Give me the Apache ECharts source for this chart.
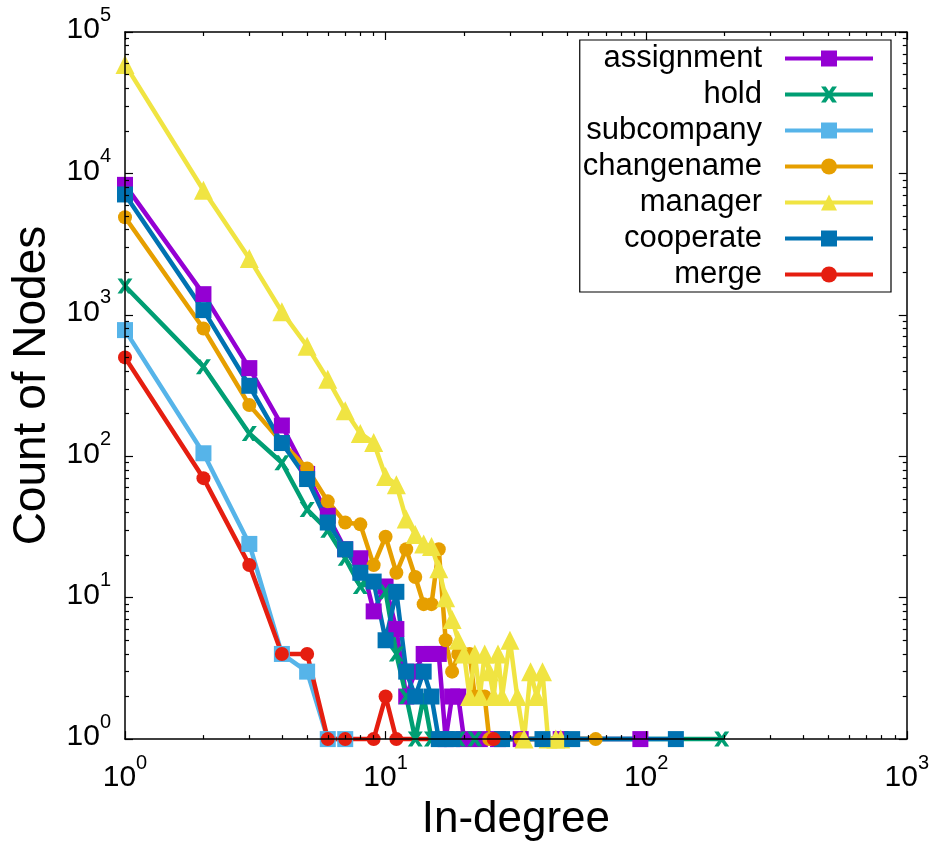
<!DOCTYPE html>
<html>
<head>
<meta charset="utf-8">
<script src="https://cdn.jsdelivr.net/npm/echarts@6/dist/echarts.min.js"></script>
<style>
  html, body { margin: 0; padding: 0; background: #fff; }
  #chart { width: 932px; height: 847px; }
</style>
</head>
<body>
<div id="chart"></div>
<script>
// in-degree distributions, [degree, count of nodes]
var assignment = [[1, 8300], [2, 1400], [3, 420], [4, 165], [5, 75], [6, 38], [7, 22], [8, 19], [9, 8], [10, 12], [11, 6], [12, 2], [13, 3], [14, 4], [15, 4], [16, 4], [17, 1], [18, 2], [19, 2], [20, 1], [23, 1], [27, 1], [33, 1], [47, 1], [95, 1]];
var hold = [[1, 1600], [2, 430], [3, 145], [4, 90], [5, 42], [6, 30], [7, 19], [8, 12], [9, 13], [10, 11], [11, 4], [12, 2], [13, 1], [14, 2], [15, 1], [17, 1], [19, 1], [22, 1], [195, 1]];
var subcompany = [[1, 780], [2, 105], [3, 24], [4, 4], [5, 3], [6, 1], [7, 1]];
var changename = [[1, 4900], [2, 800], [3, 230], [4, 125], [5, 82], [6, 48], [7, 34], [8, 33], [9, 17], [10, 27], [11, 15], [12, 22], [13, 14], [14, 9], [15, 9], [16, 22], [17, 5], [18, 3], [19, 4], [20, 4], [21, 4], [22, 2], [24, 2], [25, 1], [28, 1], [33, 1], [64, 1]];
var manager = [[1, 59000], [2, 7600], [3, 2500], [4, 1050], [5, 600], [6, 350], [7, 210], [8, 145], [9, 125], [10, 72], [11, 63], [12, 36], [13, 28], [14, 24], [15, 23], [16, 16], [17, 10], [18, 7], [19, 5], [20, 4], [21, 2], [22, 4], [23, 2], [24, 4], [25, 3], [26, 2], [27, 4], [28, 2], [30, 5], [32, 2], [34, 1], [36, 3], [38, 2], [40, 3], [42, 1], [45, 1], [47, 1]];
var cooperate = [[1, 7100], [2, 1080], [3, 315], [4, 124], [5, 69], [6, 34], [7, 22], [8, 15], [9, 13], [10, 5], [11, 11], [12, 3], [13, 2], [14, 3], [15, 2], [16, 1], [18, 1], [28, 1], [40, 1], [52, 1], [130, 1]];
var merge = [[1, 500], [2, 70], [3, 17], [4, 4], [5, 4], [6, 1], [7, 1], [9, 1], [10, 2], [11, 1], [26, 1]];

var minorX = [2, 3, 4, 5, 6, 7, 8, 9, 20, 30, 40, 50, 60, 70, 80, 90, 200, 300, 400, 500, 600, 700, 800, 900];
var minorY = [2, 3, 4, 5, 6, 7, 8, 9, 20, 30, 40, 50, 60, 70, 80, 90, 200, 300, 400, 500, 600, 700, 800, 900,
  2000, 3000, 4000, 5000, 6000, 7000, 8000, 9000, 20000, 30000, 40000, 50000, 60000, 70000, 80000, 90000];

var font = 'Liberation Sans, Arial, sans-serif';
var crossPath = 'path://M0,0 L3,0 L5,3 L7,0 L10,0 L6.5,5 L10,10 L7,10 L5,7 L3,10 L0,10 L3.5,5 Z';

function powLabel(v) {
  var e = Math.round(Math.log(v) / Math.LN10);
  return '{b|10}{s|' + e + '}';
}
var xRich = {
  b: { fontSize: 30, fontFamily: font, color: '#000', verticalAlign: 'bottom' },
  s: { fontSize: 20, fontFamily: font, color: '#000', verticalAlign: 'bottom', padding: [0, 0, 20, 0] }
};
// y labels sit a little above their tick, as in the original
var yRich = {
  b: { fontSize: 30, fontFamily: font, color: '#000', verticalAlign: 'bottom', padding: [0, 0, 14, 0] },
  s: { fontSize: 20, fontFamily: font, color: '#000', verticalAlign: 'bottom', padding: [0, 0, 34, 0] }
};

function majorAxis(pos, max, extra) {
  var a = {
    type: 'log', logBase: 10, min: 1, max: max, position: pos,
    axisLine: { show: true, onZero: false, lineStyle: { color: '#000', width: 1.5 } },
    axisTick: { show: true, inside: true, length: 8, lineStyle: { color: '#000', width: 1.2 } },
    axisLabel: { show: false },
    splitLine: { show: false },
    z: 10
  };
  for (var k in extra) a[k] = extra[k];
  return a;
}
function minorAxis(pos, max, vals) {
  return {
    type: 'log', logBase: 10, min: 1, max: max, position: pos,
    axisLine: { show: false, onZero: false },
    axisTick: { show: true, inside: true, length: 4, customValues: vals, lineStyle: { color: '#000', width: 1.2 } },
    axisLabel: { show: false },
    splitLine: { show: false },
    z: 10
  };
}

function lineSeries(name, data, color, symbol, size) {
  return {
    name: name,
    type: 'line',
    data: data,
    xAxisIndex: 0,
    yAxisIndex: 0,
    symbol: symbol,
    symbolSize: size,
    clip: false,
    itemStyle: { color: color },
    lineStyle: { color: color, width: 4.5 }
  };
}

var chart = echarts.init(document.getElementById('chart'), null, { renderer: 'canvas' });
chart.setOption({
  animation: false,
  backgroundColor: '#fff',
  grid: { left: 125, right: 25, top: 32, bottom: 96 },
  legend: {
    orient: 'vertical',
    right: 41,
    top: 40,
    align: 'right',
    backgroundColor: '#fff',
    borderColor: '#000',
    borderWidth: 1.2,
    borderRadius: 0,
    padding: [3, 16, 2, 3],
    itemWidth: 88,
    itemHeight: 20,
    itemGap: 5,
    lineStyle: { width: 4 },
    textStyle: { fontSize: 31, fontFamily: font, color: '#000', lineHeight: 30, padding: [0, 18, 0, 0] },
    data: ['assignment', 'hold', 'subcompany', 'changename', 'manager', 'cooperate', 'merge']
  },
  xAxis: [
    majorAxis('bottom', 1000, {
      axisLabel: { show: true, formatter: powLabel, rich: xRich, margin: 14 },
      name: 'In-degree', nameLocation: 'middle', nameGap: 40,
      nameTextStyle: { fontSize: 44, fontFamily: font, color: '#000' }
    }),
    minorAxis('bottom', 1000, minorX),
    majorAxis('top', 1000, {}),
    minorAxis('top', 1000, minorX)
  ],
  yAxis: [
    majorAxis('left', 100000, {
      axisLabel: { show: true, formatter: powLabel, rich: yRich, margin: 14 },
      name: 'Count of Nodes', nameLocation: 'middle', nameGap: 70,
      nameTextStyle: { fontSize: 46, fontFamily: font, color: '#000' }
    }),
    minorAxis('left', 100000, minorY),
    majorAxis('right', 100000, {}),
    minorAxis('right', 100000, minorY)
  ],
  series: [
    lineSeries('assignment', assignment, '#9400D3', 'rect', 16),
    lineSeries('hold', hold, '#009E73', crossPath, 15),
    lineSeries('subcompany', subcompany, '#56B4E9', 'rect', 16),
    lineSeries('changename', changename, '#E69F00', 'circle', 14),
    lineSeries('manager', manager, '#F0E442', 'triangle', 19),
    lineSeries('cooperate', cooperate, '#0072B2', 'rect', 16),
    lineSeries('merge', merge, '#E51E10', 'circle', 14)
  ]
});
window.addEventListener('resize', function() { chart.resize(); });
</script>
</body>
</html>
